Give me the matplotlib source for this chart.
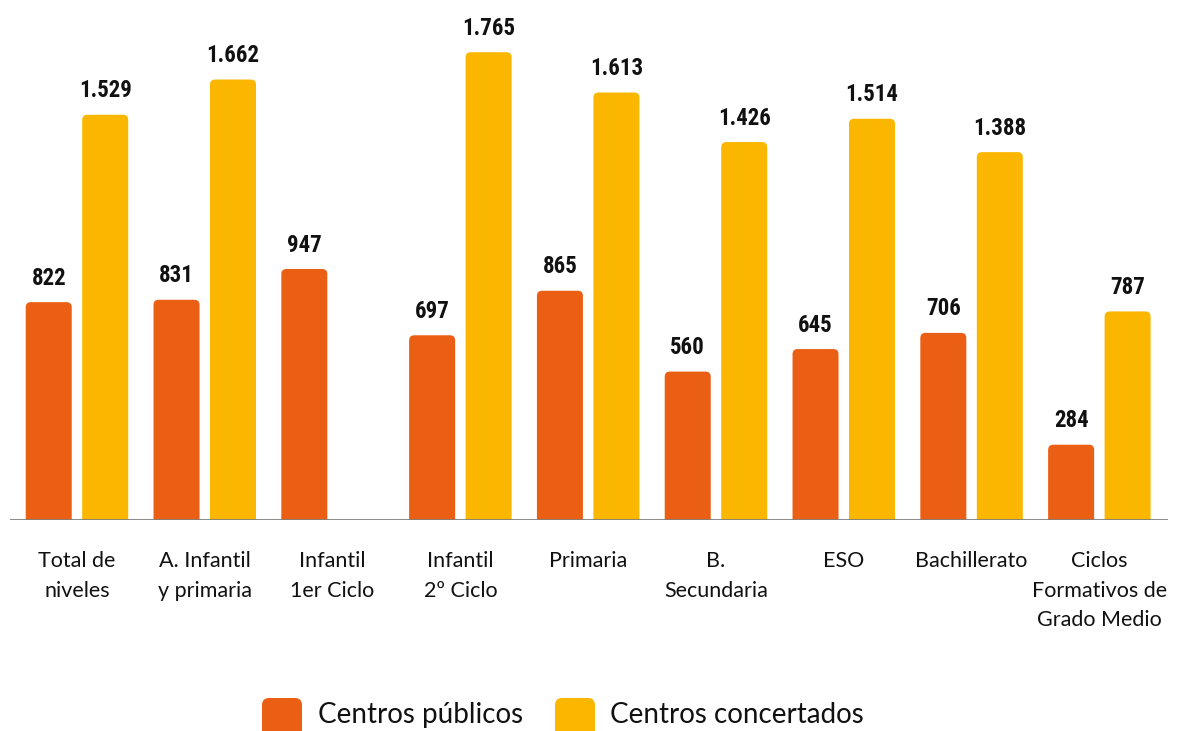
import matplotlib
matplotlib.use('Agg')
import matplotlib.pyplot as plt
from matplotlib import font_manager
from matplotlib.font_manager import FontProperties
from matplotlib.patches import FancyBboxPatch
from matplotlib.transforms import blended_transform_factory

# Datos
categorias = ['Total de\nniveles', 'A. Infantil\ny primaria', 'Infantil\n1er Ciclo',
              'Infantil\n2º Ciclo', 'Primaria', 'B.\nSecundaria', 'ESO',
              'Bachillerato', 'Ciclos\nFormativos de\nGrado Medio']
publicos = [822, 831, 947, 697, 865, 560, 645, 706, 284]
concertados = [1529, 1662, None, 1765, 1613, 1426, 1514, 1388, 787]
series = ['Centros públicos', 'Centros concertados']

NARANJA = '#EB5F14'
AMARILLO = '#FBB700'


def peso(f):
    w = f.weight
    if isinstance(w, str):
        w = font_manager.weight_dict.get(w, 400)
    return w


def estrecha(f):
    s = str(f.stretch)
    return ('condensed' in s or 'Condensed' in f.name or 'Narrow' in f.name
            or 'Condensed' in f.fname or 'Narrow' in f.fname)


# buscar una fuente bold condensada
preferidas = ['Roboto Condensed', 'Liberation Sans Narrow', 'Noto Sans',
              'Open Sans', 'DejaVu Sans', 'Roboto']
fuentes = font_manager.fontManager.ttflist
num_prop = None
for fam in preferidas:
    c = [f for f in fuentes if f.name.startswith(fam) and estrecha(f) and 650 <= peso(f) <= 750]
    if c:
        num_prop = FontProperties(fname=c[0].fname, size=16.5)
        break
if num_prop is None:
    num_prop = FontProperties(family='Roboto', weight='bold', size=15)

nombres = {f.name for f in fuentes}
txt_family = 'Lato' if 'Lato' in nombres else 'DejaVu Sans'


def fmt(v):
    return f'{v:,}'.replace(',', '.')


fig = plt.figure(figsize=(11.82, 7.31), dpi=100)
ax = fig.add_axes([10 / 1182, 211 / 731, 1158 / 1182, 520 / 731])
ax.set_xlim(-0.524, 8.537)
ax.set_ylim(0, 1962)
ax.axis('off')

ancho = 0.36
desp = 0.221
radio = 0.04
aspecto = (1962 / 520) / (9.061 / 1158)


def barra(x, h, color):
    p = FancyBboxPatch((x - ancho / 2 + radio, -60 + radio * aspecto),
                       ancho - 2 * radio, h + 60 - 2 * radio * aspecto,
                       boxstyle=f'round,pad={radio}',
                       mutation_aspect=aspecto,
                       facecolor=color, edgecolor='none', zorder=2)
    ax.add_patch(p)
    ax.annotate(fmt(h), (x, h), xytext=(0, 9), textcoords='offset points',
                ha='center', va='bottom', color='#111111',
                fontproperties=num_prop)


for i in range(len(categorias)):
    if publicos[i] is not None:
        barra(i - desp, publicos[i], NARANJA)
    if concertados[i] is not None:
        barra(i + desp, concertados[i], AMARILLO)

ax.axhline(0, color='#808080', lw=2, zorder=3)

trans = blended_transform_factory(ax.transData, fig.transFigure)
for i, c in enumerate(categorias):
    ax.text(i, (731 - 551) / 731, c, transform=trans, ha='center', va='top',
            fontsize=15.5, family=txt_family, linespacing=1.6, color='#111111')

# Leyenda
for xs, xt, col, lab in [(262, 318, NARANJA, series[0]), (555, 610, AMARILLO, series[1])]:
    sq = FancyBboxPatch((xs / 1182, (731 - 740) / 731), 40 / 1182, 42 / 731,
                        boxstyle='round,pad=0,rounding_size=0.006',
                        mutation_aspect=1182 / 731,
                        transform=fig.transFigure, facecolor=col,
                        edgecolor='none')
    fig.patches.append(sq)
    fig.text(xt / 1182, (731 - 715) / 731, lab, ha='left', va='center',
             fontsize=20, family=txt_family, color='#111111')

fig.savefig('out.png', dpi=100)
